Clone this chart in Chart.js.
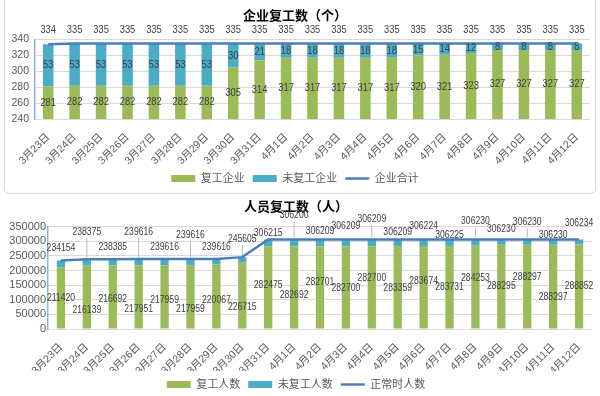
<!DOCTYPE html>
<html>
<head>
<meta charset="utf-8">
<script src="https://cdn.jsdelivr.net/npm/chart.js@4"></script>
<style>
  body { margin: 0; background: #fff; width: 600px; height: 396px; overflow: hidden; position: relative; }
  #frame { position: absolute; left: 4px; top: -6px; width: 590px; height: 198px; border: 1px solid #d9d9d9; border-radius: 6px; }
  #box1 { position: absolute; left: 0; top: 0; width: 600px; height: 194px; }
  #box2 { position: absolute; left: 0; top: 196px; width: 600px; height: 204px; }
</style>
</head>
<body>
<div id="frame"></div>
<div id="box1"><canvas id="firm_chart"></canvas></div>
<div id="box2"><canvas id="staff_chart"></canvas></div>
<script>
const days = ["3月23日","3月24日","3月25日","3月26日","3月27日","3月28日","3月29日","3月30日","3月31日",
  "4月1日","4月2日","4月3日","4月4日","4月5日","4月6日","4月7日","4月8日","4月9日","4月10日","4月11日","4月12日"];

// ----企业复工数-----
const firmBack  = [281,282,282,282,282,282,282,305,314,317,317,317,317,317,320,321,323,327,327,327,327];
const firmOut   = [53,53,53,53,53,53,53,30,21,18,18,18,18,18,15,14,12,8,8,8,8];
const firmTotal = [334,335,335,335,335,335,335,335,335,335,335,335,335,335,335,335,335,335,335,335,335];

// ----人员复工数-----
const staffBack   = [211420,216139,216692,217951,217959,217959,220067,226715,282475,282692,282701,
  282700,282700,283359,283674,283731,284253,288295,288297,288297,288852];
const staffOut    = [22734,22236,21693,21665,21657,21657,19549,18890,23740,23508,23508,
  23509,23509,22850,22550,22494,21977,17935,17933,17933,17382];
const staffNormal = [234154,238375,238385,239616,239616,239616,239616,245605,306215,306200,306209,
  306209,306209,306209,306224,306225,306230,306230,306230,306230,306234];

// label nudges (px) so the numbers don't sit on top of each other
const staffBackNudge = [0,13,2,12,3,12,4,12,-2,8,-5,1,-9,1,-6,0,-9,0,-9,11,0];
const staffLineLift  = [12,27,12,27,12,24,12,18,6,24,8,13,20,7,13,4,18,10,17,4,16];

const GREEN = "#9bbb59", BLUE = "#4bacc6", LINE = "#4a7ebb";
const FONT = "'Liberation Sans', 'Noto Sans CJK SC', sans-serif";

const valueLabels = {
  id: "valueLabels",
  afterDatasetsDraw(chart, args, opts) {
    const ctx = chart.ctx, area = chart.chartArea;
    const put = (txt, x, y) => {
      // squeeze the digits a bit, the original uses a narrow font
      ctx.save();
      ctx.translate(x, y);
      ctx.scale(opts.squeeze, 1);
      ctx.fillText(txt, 0, 0);
      ctx.restore();
    };
    ctx.save();
    ctx.font = opts.font;
    ctx.textAlign = "center";
    ctx.textBaseline = "middle";
    ctx.fillStyle = "#404040";
    chart.data.datasets.forEach((ds, di) => {
      if (opts.hide && opts.hide.includes(di)) return;
      const meta = chart.getDatasetMeta(di);
      meta.data.forEach((el, i) => {
        const txt = String(ds.data[i]);
        if (ds.type === "line") {
          const lift = Array.isArray(opts.lift) ? opts.lift[i] : opts.lift;
          const y = el.y - lift;
          if (lift >= 17) {
            ctx.strokeStyle = "#a6a6a6";
            ctx.lineWidth = 0.8;
            ctx.beginPath();
            ctx.moveTo(el.x, y + 6);
            ctx.lineTo(el.x, el.y - 2);
            ctx.stroke();
          }
          put(txt, el.x, y);
        } else {
          const base = Math.min(el.base, area.bottom);
          const nudge = opts.nudge && opts.nudge[di] ? opts.nudge[di][i] : 0;
          put(txt, el.x, (el.y + base) / 2 + nudge);
        }
      });
    });
    ctx.restore();
  }
};

function legendOpts() {
  return {
    position: "bottom",
    labels: {
      usePointStyle: true, pointStyleWidth: 24, boxHeight: 7,
      color: "#595959", padding: 8, font: { size: 11, family: FONT },
      sort: (a, b) => a.datasetIndex - b.datasetIndex
    }
  };
}

new Chart("firm_chart", {
  type: "bar",
  plugins: [valueLabels],
  data: {
    labels: days,
    datasets: [{
      label: "复工企业", data: firmBack, backgroundColor: GREEN, stack: "s", order: 1,
      pointStyle: "rect", barPercentage: 0.4, categoryPercentage: 1
    }, {
      label: "未复工企业", data: firmOut, backgroundColor: BLUE, stack: "s", order: 1,
      pointStyle: "rect", barPercentage: 0.4, categoryPercentage: 1
    }, {
      type: "line", label: "企业合计", data: firmTotal, borderColor: LINE, backgroundColor: LINE,
      borderWidth: 2.5, pointRadius: 0, pointStyle: "line", stack: "t", order: 0
    }]
  },
  options: {
    responsive: true, maintainAspectRatio: false, animation: false,
    layout: { padding: { left: 0, right: 10, top: 0, bottom: 0 } },
    plugins: {
      legend: legendOpts(),
      tooltip: { enabled: false },
      title: { display: true, text: "企业复工数（个）", color: "#000",
        font: { size: 13, weight: "bold", family: FONT }, padding: { top: 9, bottom: 15 } },
      valueLabels: { font: "11px " + FONT, squeeze: 0.85, lift: 14 }
    },
    scales: {
      x: {
        stacked: true,
        grid: { display: false },
        border: { display: false },
        ticks: { minRotation: 45, maxRotation: 45, padding: 4, color: "#595959", font: { size: 10.5, family: FONT } },
        afterFit: (s) => { s.height = 46; }
      },
      y: {
        stacked: true, min: 240, max: 340,
        grid: { color: "#d9d9d9", drawTicks: false },
        border: { color: "#8db3e2", width: 1.5 },
        ticks: { stepSize: 20, padding: 6, color: "#595959", font: { size: 10.5, family: FONT } },
        afterFit: (s) => { s.width = 35; }
      }
    }
  }
});

new Chart("staff_chart", {
  type: "bar",
  plugins: [valueLabels],
  data: {
    labels: days,
    datasets: [{
      label: "复工人数", data: staffBack, backgroundColor: GREEN, stack: "s", order: 1,
      pointStyle: "rect", barPercentage: 0.32, categoryPercentage: 1
    }, {
      label: "未复工人数", data: staffOut, backgroundColor: BLUE, stack: "s", order: 1,
      pointStyle: "rect", barPercentage: 0.32, categoryPercentage: 1
    }, {
      type: "line", label: "正常时人数", data: staffNormal, borderColor: LINE, backgroundColor: LINE,
      borderWidth: 2.5, pointRadius: 0, pointStyle: "line", stack: "t", order: 0
    }]
  },
  options: {
    responsive: true, maintainAspectRatio: false, animation: false,
    layout: { padding: { left: 0, right: 8, top: 0, bottom: 0 } },
    plugins: {
      legend: legendOpts(),
      tooltip: { enabled: false },
      title: { display: true, text: "人员复工数（人）", color: "#000",
        font: { size: 13, weight: "bold", family: FONT }, padding: { top: 4, bottom: 11 } },
      valueLabels: { font: "10.5px " + FONT, squeeze: 0.82, lift: staffLineLift, nudge: { 0: staffBackNudge }, hide: [1] }
    },
    scales: {
      x: {
        stacked: true,
        grid: { display: false },
        border: { display: false },
        ticks: { minRotation: 45, maxRotation: 45, padding: 4, color: "#595959", font: { size: 10.5, family: FONT } },
        afterFit: (s) => { s.height = 42; }
      },
      y: {
        stacked: true, min: 0, max: 350000,
        grid: { color: "#d9d9d9", drawTicks: false },
        border: { color: "#8db3e2", width: 1.5 },
        ticks: { stepSize: 50000, autoSkip: false, padding: 2, color: "#595959",
          font: { size: 11, family: FONT }, callback: (v) => String(v) },
        afterFit: (s) => { s.width = 48; }
      }
    }
  }
});
</script>
</body>
</html>
